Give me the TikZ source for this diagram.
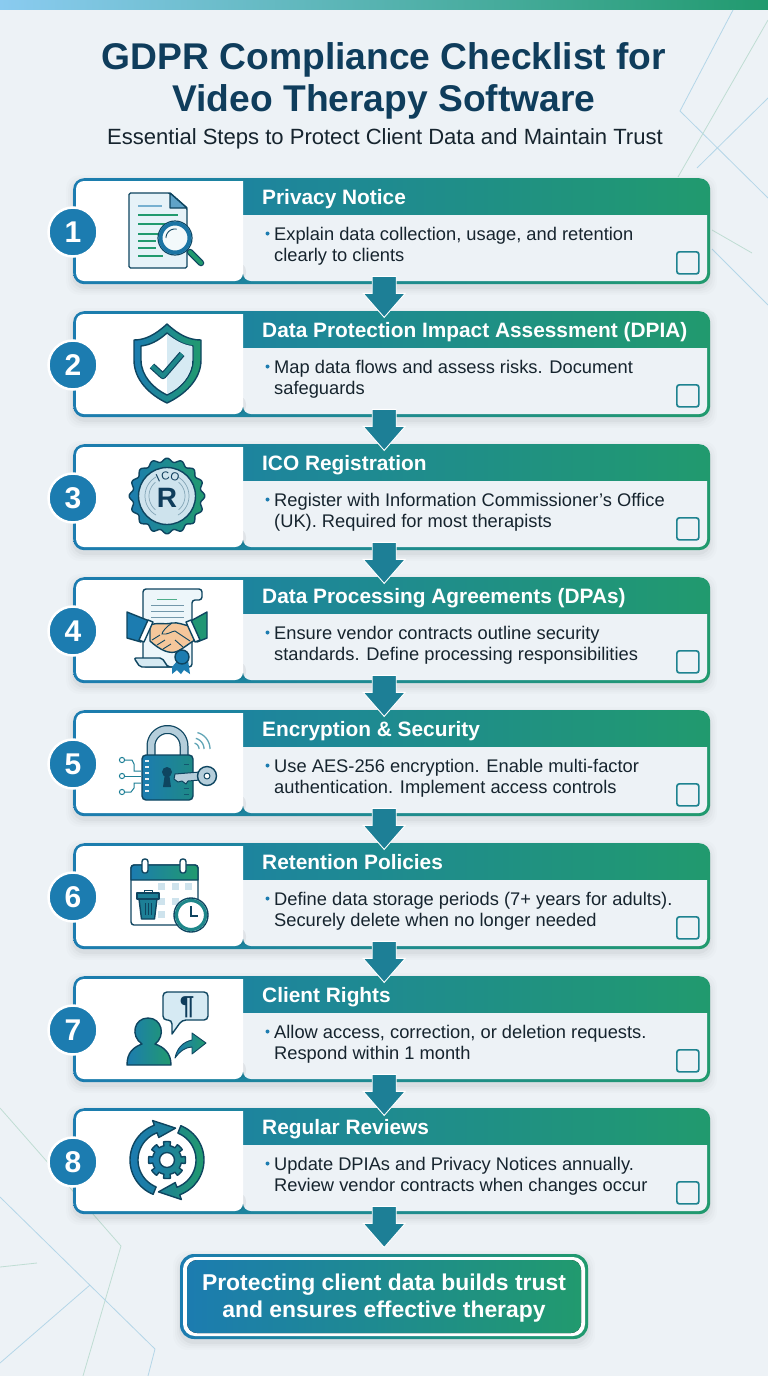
\documentclass[tikz,border=0pt]{standalone}
\usepackage{fontspec}
\setmainfont{Liberation Sans}
\usetikzlibrary{calc,shapes.geometric}
\definecolor{bgc}{HTML}{EDF2F6}
\definecolor{topc}{HTML}{8ACBF0}
\definecolor{navy}{HTML}{0F3D5C}
\definecolor{ink}{HTML}{16242E}
\definecolor{blu}{HTML}{1C7CB0}
\definecolor{grn}{HTML}{219A6E}
\definecolor{teal}{HTML}{1D7F96}
\definecolor{outl}{HTML}{0E4560}
\definecolor{pale}{HTML}{D6EAF3}
\definecolor{decb}{HTML}{B4D6E8}
\definecolor{decg}{HTML}{BFDDD3}
\definecolor{peach}{HTML}{F5C79B}
\definecolor{steel}{HTML}{B5CEDB}
\tikzset{
  grad/.style={left color=blu,right color=grn},
  ico/.style={draw=outl,line width=1.4pt,line join=round},
  deco/.style={line width=.8pt},
  titlefont/.style={font=\bfseries\fontsize{37.2}{42}\selectfont,text=navy,anchor=base,inner sep=0},
  subfont/.style={font=\fontsize{22.05}{24}\selectfont,text=ink,anchor=base,inner sep=0},
  headfont/.style={font=\bfseries\fontsize{20.85}{24}\selectfont,text=white,anchor=base west,inner sep=0},
  bodyfont/.style={font=\fontsize{18.3}{21}\selectfont,text=ink,anchor=base west,inner sep=0},
  endfont/.style={font=\bfseries\fontsize{22.9}{27}\selectfont,text=white,anchor=base,inner sep=0},
  badgenode/.style={circle,fill=blu,draw=white,line width=2.5pt,minimum size=49pt,inner sep=0,text=white,font=\bfseries\fontsize{30}{32}\selectfont},
  cardnode/.style={grad,rounded corners=11pt,minimum width=637pt,minimum height=106pt,inner sep=0,anchor=north west},
  checknode/.style={draw=teal!85!grn,line width=1.7pt,rounded corners=2.5pt,minimum size=22pt,inner sep=0,anchor=north west,fill=bgc},
  flowarrow/.style={fill=teal,draw=white,line width=.9pt,line join=miter},
}
\newcommand{\stepcard}[5]{%
  \foreach \s/\o in {7/.012,5/.015,3/.02,1/.03}{
    \fill[black,opacity=\o,rounded corners=13pt] (73-\s,#2+4-\s) rectangle (710+\s,#2+106+4+\s);
  }
  \node[cardnode] (card#1) at (73,#2) {};
  \fill[bgc] (243,#2+37) -- (707,#2+37) [rounded corners=8pt] -- (707,#2+103) -- (243,#2+103) [sharp corners] -- cycle;
  \fill[black,opacity=.06] (240,#2+103) [rounded corners=8pt] -- (246,#2+103) -- (246,#2+85) [sharp corners] -- (243,#2+85) -- cycle;
  \fill[white] (243,#2+3) [rounded corners=8pt] -- (76,#2+3) -- (76,#2+103) -- (243,#2+103) -- (243,#2+60) [sharp corners] -- cycle;
  \node[headfont] (head#1) at (262,#2+26) {#3};
  \fill[blu] (267.5,#2+55.5) circle (2);
  \node[bodyfont] (lineA#1) at (274,#2+62) {#4};
  \node[bodyfont] (lineB#1) at (274,#2+83) {#5};
  \node[checknode] (check#1) at (676,#2+73) {};
  \node[badgenode] (badge#1) at (73,#2+54) {#1};
}
\newcommand{\flowdown}[1]{%
  \draw[flowarrow] ($(#1.south)+(-19.5,-8)$) -- ++(24,0) -- ++(0,17) -- ++(9,0) -- ++(-21,24) -- ++(-21,-24) -- ++(9,0) -- cycle;
}
\begin{document}
\begin{tikzpicture}[x=1pt,y=-1pt]
\useasboundingbox (0,0) rectangle (768,1376);
\fill[bgc] (0,0) rectangle (768,1376);
\fill[left color=topc,right color=grn] (0,0) rectangle (768,9);
% decorative lines
\draw[deco,decb] (733,10) -- (680,111) -- (768,198);
\draw[deco,decg] (768,20) -- (678,177);
\draw[deco,decb] (768,98) -- (697,168);
\draw[deco,decg] (712,230) -- (752,253);
\draw[deco,decb] (712,249) -- (768,305);
\draw[deco,decg] (0,1108) -- (121,1246) -- (83,1376);
\draw[deco,decg] (0,1267) -- (37,1263);
\draw[deco,decb] (0,1197) -- (155,1349) -- (148,1376);
\draw[deco,decb] (90,1285) -- (0,1363);
% heading
\node[titlefont] (titleA) at (384,69) {GDPR Compliance Checklist for};
\node[titlefont] (titleB) at (384,111) {Video Therapy Software};
\node[subfont] (subtitle) at (385,144) {Essential Steps to Protect Client Data and Maintain Trust};
% cards
\stepcard{1}{178}{Privacy Notice}{Explain data collection, usage, and retention}{clearly to clients}
\stepcard{2}{311}{Data Protection Impact Assessment (DPIA)}{Map data flows and assess risks. Document}{safeguards}
\stepcard{3}{444}{ICO Registration}{Register with Information Commissioner’s Office}{(UK). Required for most therapists}
\stepcard{4}{577}{Data Processing Agreements (DPAs)}{Ensure vendor contracts outline security}{standards. Define processing responsibilities}
\stepcard{5}{710}{Encryption \& Security}{Use AES-256 encryption. Enable multi-factor}{authentication. Implement access controls}
\stepcard{6}{843}{Retention Policies}{Define data storage periods (7+ years for adults).}{Securely delete when no longer needed}
\stepcard{7}{976}{Client Rights}{Allow access, correction, or deletion requests.}{Respond within 1 month}
\stepcard{8}{1108}{Regular Reviews}{Update DPIAs and Privacy Notices annually.}{Review vendor contracts when changes occur}
% closing box
\foreach \s/\o in {7/.012,5/.015,3/.02,1/.03}{
  \fill[black,opacity=\o,rounded corners=15pt] (180-\s,1258-\s) rectangle (588+\s,1343+\s);
}
\node[grad,rounded corners=14pt,minimum width=408pt,minimum height=85pt,inner sep=0] (closing) at (384,1296.5) {};
\fill[white,rounded corners=12pt] (183,1257) rectangle (585,1336);
\fill[grad,rounded corners=10pt] (187,1260) rectangle (581,1333);
\node[endfont] (endA) at (384,1290) {Protecting client data builds trust};
\node[endfont] (endB) at (384,1317) {and ensures effective therapy};
% arrows
\flowdown{card1}\flowdown{card2}\flowdown{card3}\flowdown{card4}
\flowdown{card5}\flowdown{card6}\flowdown{card7}\flowdown{card8}
% ---- icon 1: document + magnifier
\draw[ico,fill=pale!60!white,rounded corners=1.5pt] (129,193) -- (170,193) -- (187,208) -- (187,268) -- (129,268) -- cycle;
\draw[ico,fill=blu!70!white] (170,193) -- (170,208) -- (187,208) -- cycle;
\draw[line width=1.1pt,blu!60!white] (138,206) -- (162,206);
\draw[line width=1.1pt,grn] (138,215) -- (178,215);
\draw[line width=1.1pt,grn] (138,224) -- (172,224);
\draw[line width=1.1pt,grn] (138,234) -- (158,234);
\draw[line width=1.1pt,grn] (138,241) -- (156,241);
\draw[line width=1.1pt,grn] (138,248) -- (156,248);
\draw[line width=1.1pt,grn] (138,256) -- (163,256);
\draw[outl,line width=6.5pt,line cap=round] (190,252) -- (201,263);
\draw[grn,line width=4pt,line cap=round] (190,252) -- (201,263);
\draw[outl,line width=1.2pt,fill=white!70!pale] (175,238) circle (17);
\draw[line width=4pt,blu!85!outl] (175,238) circle (14.5);
\draw[outl,line width=.9pt] plot[domain=180:280,samples=20] ({175+9*cos(\x)},{238+9*sin(\x)});
% ---- icon 2: shield
\draw[ico,grad] (167,324) .. controls (155,335) and (145,340) .. (134,340) -- (134,360) .. controls (134,380) and (150,395) .. (167,403) .. controls (184,395) and (201,380) .. (201,360) -- (201,340) .. controls (189,340) and (179,335) .. (167,324) -- cycle;
\draw[ico,fill=white] (167,333) .. controls (158,341) and (150,345) .. (141,346) -- (141,360) .. controls (141,376) and (154,389) .. (167,395) .. controls (180,389) and (193,376) .. (193,360) -- (193,346) .. controls (184,345) and (176,341) .. (167,333) -- cycle;
\fill[pale] (167,334) .. controls (176,341) and (184,345) .. (192,346) -- (192,360) .. controls (192,376) and (180,388) .. (167,394) -- cycle;
\draw[outl,line width=6.5pt,line join=round] (152,366) -- (163,376) -- (182,354);
\draw[teal!70!grn,line width=4.2pt,line join=round] (152,366) -- (163,376) -- (182,354);
% ---- icon 3: ICO seal
\draw[ico,grad] plot[domain=0:360,samples=241] ({167+(36+1.8*cos(16*\x))*cos(\x)},{496+(36+1.8*cos(16*\x))*sin(\x)}) -- cycle;
\draw[ico,fill=pale!75!steel] (167,496) circle (28.5);
\draw[line width=.7pt,steel!70!outl] plot[domain=120:240,samples=20] ({167+22*cos(\x)},{496+22*sin(\x)});
\draw[line width=.7pt,steel!70!outl] plot[domain=-60:60,samples=20] ({167+22*cos(\x)},{496+22*sin(\x)});
\draw[line width=.7pt,steel!70!outl] plot[domain=130:230,samples=20] ({167+18*cos(\x)},{496+18*sin(\x)});
\draw[line width=.7pt,steel!70!outl] plot[domain=-50:50,samples=20] ({167+18*cos(\x)},{496+18*sin(\x)});
\node[font=\fontsize{11.5}{12}\selectfont,text=navy,rotate=25,inner sep=0] (icoI) at (158,478) {I};
\node[font=\fontsize{11.5}{12}\selectfont,text=navy,rotate=8,inner sep=0] (icoC) at (165.5,476) {C};
\node[font=\fontsize{11.5}{12}\selectfont,text=navy,rotate=-15,inner sep=0] (icoO) at (175,476.5) {O};
\node[font=\bfseries\fontsize{28}{30}\selectfont,text=navy,inner sep=0] (icoR) at (167,498) {R};
% ---- icon 4: agreement + handshake
\draw[ico,fill=pale!45!white,rounded corners=3pt] (143,667) -- (143,589) -- (202,589) -- (202,600) -- (192,600) -- (192,667) -- cycle;
\draw[line width=1pt,grn!80!white] (157,599) -- (177,599);
\foreach \yy in {605,611,617}{\draw[line width=.8pt,steel!60!outl] (151,\yy) -- (184,\yy);}
\draw[ico,fill=pale,rounded corners=2pt] (134,658) -- (162,658) -- (168,667) -- (180,667) -- (140,667) -- cycle;
\draw[ico,fill=blu] (127,612) -- (152,622) -- (141,642) -- (127,638) -- cycle;
\draw[ico,fill=grn!85!teal] (207,612) -- (187,623) -- (197,642) -- (207,638) -- cycle;
\draw[ico,fill=peach] (150,625) .. controls (158,622) and (164,625) .. (172,623) .. controls (178,622) and (184,625) .. (189,626) -- (195,640) .. controls (188,644) and (184,648) .. (178,651) .. controls (170,655) and (160,650) .. (150,641) -- cycle;
\draw[ico,fill=white] (148,620) -- (153,622) -- (144,642) -- (139,640) -- cycle;
\draw[ico,fill=white] (186,622) -- (191,620) -- (200,640) -- (195,642) -- cycle;
\draw[outl,line width=.9pt] (172,623) .. controls (166,627) and (162,632) .. (162,634) .. controls (168,635) and (172,631) .. (175,631) -- (190,641);
\draw[outl,line width=.9pt] (152,640) -- (160,635) (157,645) -- (165,640) (163,649) -- (171,644) (183,647) -- (175,640);
\fill[blu] (172,667) -- (178,660) -- (188,660) -- (190,674) -- (184,670) -- (181,674) -- (177,670) -- (172,674) -- cycle;
\draw[ico,fill=blu] (182,657) circle (7);
% ---- icon 5: lock + key
\draw[outl,line width=9pt] (151,756) -- (151,746) -- plot[domain=180:360,samples=30] ({167.5+16.5*cos(\x)},{746+16.5*sin(\x)}) -- (184,756);
\draw[steel,line width=6.5pt] (151,756) -- (151,746) -- plot[domain=180:360,samples=30] ({167.5+16.5*cos(\x)},{746+16.5*sin(\x)}) -- (184,756);
\draw[ico,left color=blu,right color=teal!60!grn,rounded corners=4pt] (142,755) rectangle (193,800);
\foreach \yy in {761,767,773,779,785,791}{\draw[white!70!steel,line width=1.4pt] (145,\yy) -- (149,\yy);}
\foreach \yy in {764,788,794}{\draw[outl!70!teal,line width=1pt] (184,\yy) -- (189,\yy);}
\fill[outl] (167,772) circle (5) (165,773) -- (169,773) -- (171,787) -- (163,787) -- cycle;
\draw[ico,fill=steel,line width=1pt] (175,774) -- (200,772) -- (200,780) -- (188,781) -- (186,784) -- (182,781) -- (178,782) -- (174,779) -- cycle;
\draw[ico,fill=steel] (207,776) circle (9.5);
\draw[ico,fill=white,line width=1pt] (207,776) circle (3);
\foreach \yy in {760,776,792}{\draw[teal,line width=1pt,fill=white] (122,\yy) circle (2.6);}
\draw[teal,line width=1pt] (125,760) -- (132,760) -- (134,764) -- (134,771) -- (141,771);
\draw[teal,line width=1pt] (125,776) -- (141,776);
\draw[teal,line width=1pt] (125,792) -- (131,792) -- (134,788) -- (134,783) -- (141,783);
\foreach \r in {6,11,17}{\draw[teal!70!white,line width=1.3pt] plot[domain=-75:0,samples=15] ({193+\r*cos(\x)},{749+\r*sin(\x)});}
% ---- icon 6: calendar
\draw[ico,fill=white,rounded corners=3pt] (131,865) rectangle (198,925);
\draw[ico,grad] (131,880) -- (131,869) [rounded corners=3pt] -- (131,865) -- (198,865) [sharp corners] -- (198,880) -- cycle;
\foreach \xx in {145,183}{\draw[ico,fill=white,rounded corners=2.5pt] (\xx-3,859) rectangle (\xx+3,873);}
\foreach \xx/\yy in {161/886,175/886,188/886,161/901,175/901,161/914}{\fill[pale!75!steel] (\xx-3.5,\yy-3.5) rectangle (\xx+3.5,\yy+3.5);}
\draw[ico,fill=teal] (139,899) -- (157,899) -- (154.5,919) -- (141.5,919) -- cycle;
\draw[ico,fill=teal] (137,893) rectangle (159,899);
\draw[ico,line width=1pt] (144,893) -- (144,890) -- (152,890) -- (152,893);
\draw[outl,line width=.9pt] (145,903) -- (145,915) (148,903) -- (148,915) (151,903) -- (151,915);
\draw[ico,fill=white] (191,915) circle (17);
\draw[line width=3.2pt,teal!70!grn] (191,915) circle (14.5);
\draw[outl,line width=1.2pt] (191,906) -- (191,916) -- (198,916);
% ---- icon 7: person, bubble, arrow
\draw[ico,grad] (127,1065) .. controls (127,1052) and (134,1047) .. (142,1044) .. controls (130,1036) and (134,1018) .. (148,1018) .. controls (162,1018) and (166,1036) .. (155,1044) .. controls (164,1047) and (171,1053) .. (171,1065) -- cycle;
\draw[ico,fill=pale,rounded corners=4pt] (163,992) -- (208,992) -- (208,1020) -- (182,1020) [sharp corners] -- (172,1034) [rounded corners=4pt] -- (172,1020) -- (163,1020) -- cycle;
\node[font=\bfseries\fontsize{26}{26}\selectfont,text=navy,inner sep=0] (pilcrow) at (187,1007) {¶};
\draw[ico,line width=.9pt,grad] (175,1058) .. controls (177,1048) and (183,1042) .. (192,1040) -- (192,1033) -- (206,1043) -- (192,1054) -- (192,1047) .. controls (186,1047) and (180,1051) .. (175,1058) -- cycle;
% ---- icon 8: refresh + gear
\draw[ico,left color=blu,right color=teal] plot[domain=112:250,samples=30] ({167+37*cos(\x)},{1160+37*sin(\x)}) -- ({167+42*cos(250)},{1160+42*sin(250)}) -- ({167+33*cos(285)},{1160+33*sin(285)}) -- ({167+24*cos(250)},{1160+24*sin(250)}) -- plot[domain=250:112,samples=30] ({167+29*cos(\x)},{1160+29*sin(\x)}) -- cycle;
\draw[ico,left color=teal,right color=grn] plot[domain=292:430,samples=30] ({167+37*cos(\x)},{1160+37*sin(\x)}) -- ({167+42*cos(430)},{1160+42*sin(430)}) -- ({167+33*cos(465)},{1160+33*sin(465)}) -- ({167+24*cos(430)},{1160+24*sin(430)}) -- plot[domain=430:292,samples=30] ({167+29*cos(\x)},{1160+29*sin(\x)}) -- cycle;
\draw[ico,left color=blu,right color=teal!60!grn] plot[domain=0:360,samples=361] ({167+(14.5+(cos(8*\x)>0?4:0))*cos(\x)},{1160+(14.5+(cos(8*\x)>0?4:0))*sin(\x)}) -- cycle;
\draw[ico,fill=white] (167,1160) circle (7.5);
\end{tikzpicture}
\end{document}
